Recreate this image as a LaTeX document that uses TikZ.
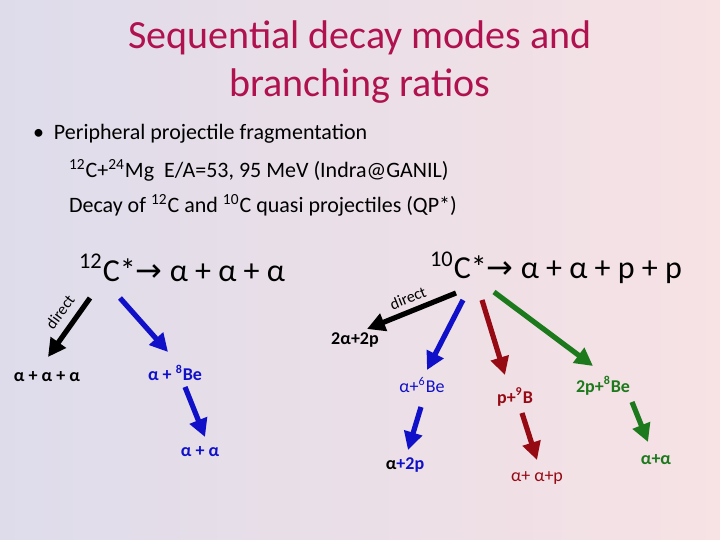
\documentclass[tikz,border=0pt]{standalone}
\usepackage{fontspec}
\setmainfont{Carlito}
\usetikzlibrary{arrows.meta}
\definecolor{titlered}{HTML}{B0124F}
\definecolor{dblue}{HTML}{1010C8}
\definecolor{dred}{HTML}{960A14}
\definecolor{dgreen}{HTML}{1C7A1C}
\tikzset{
  decay/.style={line width=2.6pt, -{Triangle[length=9pt,width=9pt]}},
  prod/.style={font=\fontsize{9}{10}\selectfont\bfseries},
  head/.style={font=\fontsize{16}{18}\selectfont, anchor=west},
  lbl/.style={font=\fontsize{8}{9}\selectfont}
}
\begin{document}
\begin{tikzpicture}[x=0.5pt,y=-0.5pt]
\shade[left color={rgb,255:red,222;green,220;blue,235}, right color={rgb,255:red,247;green,226;blue,228}] (0,0) rectangle (720,540);
\useasboundingbox (0,0) rectangle (720,540);

% title and bullets
\node[text=titlered, font=\fontsize{20}{24}\selectfont, align=center] (title) at (360,62) {Sequential decay modes and\\branching ratios};
\node[font=\fontsize{11}{12}\selectfont, anchor=west] (b1) at (26,134) {\textbullet\ \ Peripheral projectile fragmentation};
\node[font=\fontsize{11}{12}\selectfont, anchor=west] (b2) at (62,170) {\textsuperscript{12}C+\textsuperscript{24}Mg\ \ E/A=53, 95 MeV (Indra@GANIL)};
\node[font=\fontsize{11}{12}\selectfont, anchor=west] (b3) at (62,205) {Decay of \textsuperscript{12}C and \textsuperscript{10}C quasi projectiles (QP*)};

% 12C
\node[head] (c12) at (72,268) {\textsuperscript{12}C*{\fontspec{DejaVu Sans}→} α + α + α};
\node[prod] (aaa) at (47,377) {α + α + α};
\node[prod, text=dblue] (a8be) at (175,373) {α + \textsuperscript{8}Be};
\node[prod, text=dblue] (aa) at (200,452) {α + α};
\draw[decay, black] (90,298) -- (48,357);
\node[lbl, rotate=54] (dir1) at (60,312) {direct};
\draw[decay, dblue] (120,298) -- (168,352);
\draw[decay, dblue] (185,387) -- (205,437);

% 10C
\node[head] (c10) at (423,268) {\textsuperscript{10}C*{\fontspec{DejaVu Sans}→} α + α + p + p};
\node[prod] (aapp) at (355,340) {2α+2p};
\node[text=dblue, font=\fontsize{9}{10}\selectfont] (a6be) at (422,385) {α+\textsuperscript{6}Be};
\node[prod, text=dblue] (a2p) at (405,465) {\textcolor{black}{α}+2p};
\node[prod, text=dred] (p9b) at (515,397) {p+\textsuperscript{9}B};
\node[text=dred, font=\fontsize{9}{10}\selectfont] (aap) at (537,478) {α+ α+p};
\node[prod, text=dgreen] (p8be) at (603,386) {2p+\textsuperscript{8}Be};
\node[prod, text=dgreen] (aa2) at (656,460) {α+α};
\draw[decay, black] (456,293) -- (367,329);
\node[lbl, rotate=22] (dir2) at (408,298) {direct};
\draw[decay, dblue] (463,300) -- (427,370);
\draw[decay, dblue] (421,407) -- (408,450);
\draw[decay, dred] (482,300) -- (505,375);
\draw[decay, dred] (522,413) -- (537,460);
\draw[decay, dgreen] (494,292) -- (593,366);
\draw[decay, dgreen] (632,402) -- (648,442);
\end{tikzpicture}
\end{document}
